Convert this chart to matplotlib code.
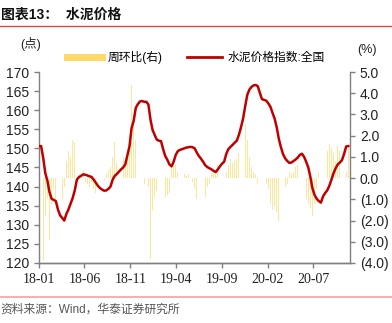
import numpy as np
import pandas as pd
import matplotlib
matplotlib.use('Agg')
import matplotlib.pyplot as plt
import matplotlib.dates as mdates
from matplotlib.lines import Line2D
from matplotlib.ticker import FuncFormatter, MultipleLocator

plt.rcParams['font.family'] = ['Liberation Sans', 'Noto Sans CJK SC', 'DejaVu Sans']

# weekly cement price index (national) and week-on-week change, 2018-01 .. 2020-10
dates = pd.date_range('2018-01-01', periods=148, freq='7D')

price_index = [
    150.6, 150.6, 147.5, 143.5, 141.5, 138.5, 136.8, 136.5, 136.2, 134.0,
    132.5, 131.8, 131.1, 132.8, 134.0, 135.5, 137.0, 139.0, 141.8, 142.5,
    142.8, 143.2, 143.1, 142.9, 142.7, 142.5, 141.8, 141.0, 140.2, 139.6,
    139.2, 138.9, 139.0, 139.4, 140.0, 141.8, 142.8, 143.3, 143.9, 144.5,
    145.0, 145.8, 148.2, 150.5, 155.3, 157.2, 160.6, 161.6, 162.3, 162.4,
    162.2, 162.2, 161.5, 157.5, 154.8, 153.5, 152.3, 152.0, 151.9, 149.8,
    148.0, 147.0, 145.8, 145.3, 146.5, 148.3, 149.3, 149.6, 149.8, 150.0,
    150.2, 150.3, 150.4, 150.3, 150.0, 148.9, 148.0, 147.3, 146.5, 145.6,
    145.1, 144.8, 144.5, 144.1, 143.8, 144.5, 145.3, 146.0, 146.5, 148.5,
    149.8, 150.4, 150.9, 151.5, 152.0, 153.5, 155.5, 157.8, 161.0, 164.0,
    165.4, 166.1, 166.5, 166.6, 166.3, 164.5, 162.9, 162.7, 162.5, 161.8,
    160.9, 159.3, 157.8, 155.5, 152.5, 150.3, 148.5, 147.4, 146.7, 146.2,
    146.3, 146.7, 147.1, 147.6, 148.3, 148.6, 147.8, 146.5, 145.0, 142.5,
    139.5, 137.8, 136.8, 136.2, 135.8, 137.4, 138.3, 139.0, 140.2, 141.8,
    143.5, 144.8, 145.8, 146.3, 146.9, 148.5, 150.5, 150.6,
]

wow_change = [
    0.0, -1.3, -3.9, -1.8, -1.0, -2.9, -1.2, -0.5, -1.0, -0.9,
    -0.7, -1.0, -0.4, 0.8, 1.3, 1.0, 1.8, 1.7, 2.6, 0.6,
    0.3, 0.4, -0.2, -0.3, -0.4, -0.2, -0.5, -0.7, -0.6, -0.4,
    -0.2, -0.1, 0.2, 0.4, 0.5, 1.0, 1.7, 0.7, 0.6, 0.9,
    1.0, 0.6, 1.3, 1.5, 4.4, 2.5, 1.8, 0.7, 0.5, 0.4,
    -0.3, 0.0, -0.4, -3.8, -1.5, -0.9, -0.6, -0.5, -1.2, -2.3,
    -0.9, -0.8, -0.7, 0.5, 0.85, 0.6, 0.3, 0.2, 0.1, 0.2,
    0.1, 0.2, 0.0, -0.2, -0.5, -1.0, -0.9, -0.7, -0.8, -0.9,
    -0.4, -0.3, 0.2, 0.3, 0.2, 0.6, 1.0, 0.8, 0.5, 0.3,
    0.6, 0.9, 0.7, 0.8, 0.9, 1.2, 1.8, 2.7, 2.5, 1.8,
    1.0, 0.5, 0.3, 0.2, -0.3, -1.2, -0.8, -0.4, -0.3, -0.5,
    -1.2, -1.5, -1.3, -1.6, -2.0, -1.7, -0.8, -0.4, -0.3, 0.3,
    0.2, 0.3, 0.5, 0.6, 0.5, 0.3, -1.5, -1.0, -1.2, -1.4,
    -1.8, -1.2, -0.5, 0.3, 0.4, 1.5, 1.4, 1.3, 1.6, 1.4,
    1.2, 0.8, 1.5, 1.3, 0.9, 2.4, 0.3, 1.4,
]

tick_dates = pd.to_datetime(['2018-01-01', '2018-06-01', '2018-11-01', '2019-04-01',
                             '2019-09-01', '2020-02-01', '2020-07-01'])

line_red = '#C00000'
bar_yellow = '#FFE599'
axis_gray = '#808080'

fig = plt.figure(figsize=(3.92, 3.23), dpi=100)
ax = fig.add_axes([0.0995, 0.186, 0.7935, 0.591])
ax2 = ax.twinx()

# bars on the right axis, drawn behind the index line
ax2.bar(dates, wow_change, width=2.4, color=bar_yellow, linewidth=0, zorder=1)
ax2.set_ylim(-4, 5)
ax2.yaxis.set_major_locator(MultipleLocator(1))
ax2.yaxis.set_major_formatter(FuncFormatter(
    lambda v, p: f'({abs(v):.1f})' if v < -1e-9 else f'{abs(v):.1f}'))

ax.set_zorder(ax2.get_zorder() + 1)
ax.patch.set_visible(False)
ax.plot(dates, price_index, color=line_red, lw=1.8, zorder=3)
ax.set_ylim(120, 170)
ax.yaxis.set_major_locator(MultipleLocator(5))
ax.set_xlim(pd.Timestamp('2018-01-01'), pd.Timestamp('2020-11-01'))
ax.set_xticks(tick_dates)
ax.set_xticklabels([d.strftime('%y-%m') for d in tick_dates],
                   family='Liberation Serif', fontsize=9.5)

for a in (ax, ax2):
    a.spines['top'].set_visible(False)
    for s in ('left', 'right', 'bottom'):
        a.spines[s].set_color(axis_gray)
        a.spines[s].set_linewidth(1.0)
    a.tick_params(colors='#222222', labelsize=10, length=3.5, width=1.0)
    a.tick_params(axis='both', color=axis_gray)
ax2.spines['left'].set_visible(False)
ax.spines['right'].set_visible(False)

# legend across the top
handles = [Line2D([], [], color='#FFD966', lw=5),
           Line2D([], [], color=line_red, lw=2)]
leg = fig.legend(handles, ['周环比(右)', '水泥价格指数:全国'], ncol=2, frameon=False,
                 loc='center', bbox_to_anchor=(0.5, 0.823), fontsize=8.5,
                 handlelength=3.0, columnspacing=2.0, handletextpad=0.5)

fig.text(20 / 392, 1 - 44 / 323, '(点)', fontsize=9, va='center', color='#222222')
fig.text(357 / 392, 1 - 50 / 323, '(%)', fontsize=9, va='center', color='#222222')

# header and source lines
fig.text(0.002, 1 - 15 / 323, '图表13：  水泥价格', fontsize=10, fontweight='bold',
         va='center', color='#111111')
fig.add_artist(Line2D([0, 1], [1 - 26 / 323] * 2, color='#E0483C', lw=1.0))
fig.add_artist(Line2D([0, 1], [1 - 297 / 323] * 2, color='#F4A29C', lw=1.2))
fig.text(0.002, 1 - 310 / 323, '资料来源：Wind，华泰证券研究所', fontsize=8.5,
         va='center', color='#555555')

fig.savefig('out.png', dpi=100)
